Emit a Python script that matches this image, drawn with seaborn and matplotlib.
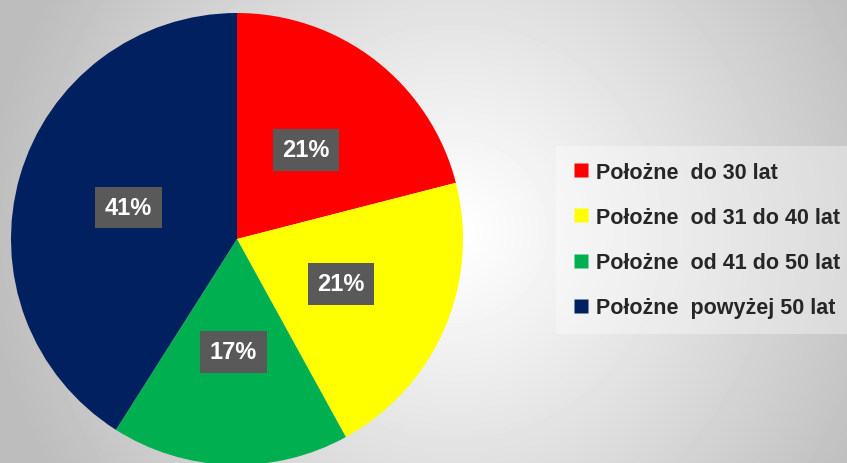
import numpy as np
import matplotlib
matplotlib.use("Agg")
import matplotlib.pyplot as plt
from matplotlib.lines import Line2D
import seaborn as sns

# data
categories = ["Położne  do 30 lat", "Położne  od 31 do 40 lat",
              "Położne  od 41 do 50 lat", "Położne  powyżej 50 lat"]
shares = [21, 21, 17, 41]
colors = ["#FF0000", "#FFFF00", "#00B050", "#002060"]

sns.set_theme(style="white")
plt.rcParams['font.family'] = ['Liberation Sans', 'DejaVu Sans']
palette = sns.color_palette(colors)

W, H = 847, 464
fig = plt.figure(figsize=(W / 100, H / 100), dpi=100)

# radial gradient background
bg = fig.add_axes([0, 0, 1, 1], zorder=0)
yy, xx = np.mgrid[0:H, 0:W]
d = np.hypot(xx - 455, yy - 232) / 470
g = 1.0 - (1.0 - 0.74) * np.clip(d, 0, 1) ** 1.1
bg.imshow(g, cmap="gray", vmin=0, vmax=1, aspect="auto", extent=[0, W, H, 0])
bg.axis("off")

# pie
cx, cy, r = 237, 240, 226
ax = fig.add_axes([(cx - r) / W, (H - cy - r) / H, 2 * r / W, 2 * r / H], zorder=1)
wedges, texts, autotexts = ax.pie(
    shares, colors=palette, startangle=90, counterclock=False,
    autopct="%.0f%%", pctdistance=0.5, radius=1,
    wedgeprops=dict(linewidth=0),
    textprops=dict(color="white", fontsize=17, fontweight="bold"))
for t in autotexts:
    t.set_bbox(dict(boxstyle="square,pad=0.4", facecolor="#595959", edgecolor="none"))
ax.set_xlim(-1, 1)
ax.set_ylim(-1, 1)
ax.axis("off")

# legend
handles = [Line2D([0], [0], marker="s", linestyle="none", markersize=9.5,
                  markerfacecolor=c, markeredgecolor="none") for c in palette]
leg = fig.legend(handles, categories, loc="center left",
                 bbox_to_anchor=(545 / W, (H - 241) / H),
                 prop=dict(size=15.5, weight="bold"),
                 handlelength=0.8, handletextpad=0.3, labelspacing=1.12,
                 borderpad=0.75, frameon=True, fancybox=False)
leg.get_frame().set_facecolor("white")
leg.get_frame().set_alpha(0.35)
leg.get_frame().set_edgecolor("none")

fig.savefig("out.png", dpi=100)
